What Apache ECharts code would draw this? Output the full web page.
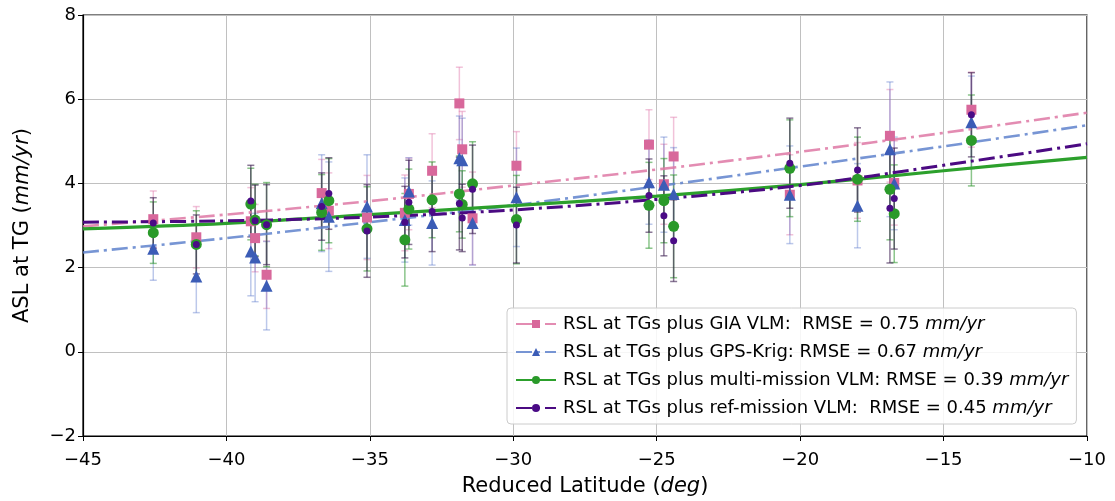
<!DOCTYPE html>
<html>
<head>
<meta charset="utf-8">
<script src="https://cdn.jsdelivr.net/npm/echarts@6/dist/echarts.min.js"></script>
<style>
  html, body { margin: 0; padding: 0; background: #fff; }
  #chart { width: 1115px; height: 501px; }
</style>
</head>
<body>
<div id="chart"></div>
<script>
// Tide-gauge stations (reduced latitude, deg)
const latitudes = [-42.55, -41.05, -39.15, -39.0, -38.6, -36.68, -36.43, -35.1, -33.78, -33.64,
  -32.83, -31.88, -31.78, -31.42, -29.89, -25.27, -24.75, -24.41, -20.36, -18.0, -16.87, -16.72, -14.03];

// ASL estimates (mm/yr) and one-sigma uncertainties per VLM correction
const giaVals = [3.15, 2.72, 3.10, 2.70, 1.83, 3.77, 3.35, 3.19, 3.30, 3.75,
  4.30, 5.90, 4.81, 3.17, 4.42, 4.92, 3.98, 4.64, 3.73, 4.07, 5.13, 4.01, 5.75];
const giaErr = [0.67, 0.73, 0.80, 0.80, 0.80, 0.80, 0.90, 1.00, 0.90, 0.85,
  0.88, 0.86, 0.90, 1.10, 0.81, 0.83, 0.95, 0.93, 0.95, 0.90, 1.10, 1.00, 0.89];

const krigVals = [2.45, 1.79, 2.38, 2.24, 1.57, 3.53, 3.21, 3.45, 3.13, 3.81,
  3.06, 4.60, 4.55, 3.06, 3.67, 4.03, 3.97, 3.75, 3.73, 3.47, 4.81, 4.00, 5.45];
const krigErr = [0.75, 0.86, 1.05, 1.05, 1.05, 1.15, 1.30, 1.23, 1.00, 0.80,
  1.00, 1.00, 1.00, 1.00, 1.17, 1.00, 1.13, 1.10, 1.16, 1.00, 1.60, 1.10, 1.10];

const multiVals = [2.83, 2.55, 3.51, 3.13, 3.02, 3.31, 3.59, 2.92, 2.66, 3.39,
  3.61, 3.75, 3.50, 3.99, 3.14, 3.48, 3.59, 2.98, 4.36, 4.10, 3.86, 3.28, 5.02];
const multiErr = [0.73, 0.80, 0.85, 0.85, 1.00, 0.90, 1.00, 1.00, 1.10, 0.95,
  0.90, 0.90, 0.80, 1.00, 1.05, 1.02, 1.00, 1.22, 1.15, 1.00, 1.20, 1.16, 1.08];

const refVals = [3.06, 2.55, 3.58, 3.11, 3.02, 3.45, 3.76, 2.87, 3.08, 3.55,
  3.33, 3.52, 3.18, 3.86, 3.01, 3.71, 3.23, 2.64, 4.48, 4.32, 3.41, 3.64, 5.63];
const refErr = [0.60, 0.70, 0.85, 0.85, 0.95, 0.80, 0.85, 1.10, 0.85, 1.00,
  0.95, 1.10, 0.80, 1.05, 0.90, 0.87, 0.95, 0.97, 1.07, 1.00, 1.30, 1.20, 1.00];

// Fitted trends sampled along latitude
const fitLat = [-45, -40, -35, -30, -25, -20, -15, -10];
const giaFit = [2.98, 3.26, 3.58, 3.95, 4.33, 4.75, 5.20, 5.68];
const krigFit = [2.36, 2.70, 3.08, 3.48, 3.93, 4.40, 4.88, 5.38];
const multiFit = [2.92, 3.05, 3.26, 3.47, 3.70, 3.97, 4.30, 4.62];
const refFit = [3.08, 3.11, 3.20, 3.37, 3.62, 3.95, 4.43, 4.94];

// Legend labels (units appended in italics)
const legendNames = [
  'RSL at TGs plus GIA VLM:  RMSE = 0.75 ',
  'RSL at TGs plus GPS-Krig: RMSE = 0.67 ',
  'RSL at TGs plus multi-mission VLM: RMSE = 0.39 ',
  'RSL at TGs plus ref-mission VLM:  RMSE = 0.45 '
];

const xTicks = [-45, -40, -35, -30, -25, -20, -15, -10];
const yTicks = [-2, 0, 2, 4, 6, 8];

const FONT = 'DejaVu Sans';
const minus = v => String(v).replace('-', '\u2212');

const groups = [
  { name: legendNames[0], vals: giaVals, err: giaErr, fit: giaFit,
    marker: '#d8689b', line: 'rgba(222,120,165,0.85)', bar: 'rgba(225,120,170,0.45)',
    symbol: 'rect', size: 10, lw: 2.6, dash: [16, 5, 3, 5] },
  { name: legendNames[1], vals: krigVals, err: krigErr, fit: krigFit,
    marker: '#3b5cb6', line: 'rgba(95,130,205,0.85)', bar: 'rgba(80,110,200,0.38)',
    symbol: 'triangle', size: 12, lw: 2.6, dash: [16, 5, 3, 5] },
  { name: legendNames[2], vals: multiVals, err: multiErr, fit: multiFit,
    marker: '#2a9a2a', line: '#2ca02c', bar: 'rgba(44,150,44,0.55)',
    symbol: 'circle', size: 11, lw: 3.2, dash: 'solid' },
  { name: legendNames[3], vals: refVals, err: refErr, fit: refFit,
    marker: '#4a0b86', line: '#4b0a82', bar: 'rgba(60,30,80,0.6)',
    symbol: 'circle', size: 7, lw: 3.0, dash: [16, 5, 3, 5] }
];

function errorBarRenderer(color) {
  return function (params, api) {
    const x = api.value(0);
    const top = api.coord([x, api.value(2)]);
    const bot = api.coord([x, api.value(1)]);
    const cap = 3.5;
    const style = { stroke: color, lineWidth: 1.5, fill: null };
    return {
      type: 'group',
      children: [
        { type: 'line', shape: { x1: top[0], y1: top[1], x2: bot[0], y2: bot[1] }, style },
        { type: 'line', shape: { x1: top[0] - cap, y1: top[1], x2: top[0] + cap, y2: top[1] }, style },
        { type: 'line', shape: { x1: bot[0] - cap, y1: bot[1], x2: bot[0] + cap, y2: bot[1] }, style }
      ]
    };
  };
}

const series = [];
groups.forEach((g) => {
  // fitted trend line (also supplies the legend entry)
  series.push({
    name: g.name,
    type: 'line',
    data: fitLat.map((x, i) => [x, g.fit[i]]),
    smooth: 0.35,
    showSymbol: false,
    symbol: g.symbol,
    symbolSize: g.size,
    itemStyle: { color: g.marker },
    lineStyle: { color: g.line, width: g.lw, type: g.dash },
    z: 3,
    silent: true
  });
});
groups.forEach((g, gi) => {
  series.push({
    name: g.name + 'err',
    type: 'custom',
    renderItem: errorBarRenderer(g.bar),
    data: latitudes.map((x, i) => [x, g.vals[i] - g.err[i], g.vals[i] + g.err[i]]),
    z: 2 + gi * 0.1,
    silent: true
  });
  series.push({
    name: g.name + 'pts',
    type: 'scatter',
    data: latitudes.map((x, i) => [x, g.vals[i]]),
    symbol: g.symbol,
    symbolSize: g.size,
    itemStyle: { color: g.marker, opacity: 1 },
    z: 4 + gi * 0.1,
    silent: true
  });
});

const axisNameStyle = {
  fontSize: 21, color: '#000', fontFamily: FONT,
  rich: { i: { fontStyle: 'italic', fontSize: 21, color: '#000', fontFamily: FONT } }
};

const chart = echarts.init(document.getElementById('chart'), null, { renderer: 'canvas' });
chart.setOption({
  animation: false,
  backgroundColor: '#fff',
  textStyle: { fontFamily: FONT },
  grid: { left: 83, right: 28, top: 15, bottom: 65, show: true, borderColor: '#000', borderWidth: 1.2,
          containLabel: false, outerBoundsMode: 'none' },
  xAxis: {
    type: 'value', min: xTicks[0], max: xTicks[xTicks.length - 1], interval: 5,
    name: 'Reduced Latitude ({i|deg})', nameLocation: 'middle', nameGap: 40,
    nameTextStyle: axisNameStyle,
    axisLine: { onZero: false, lineStyle: { color: '#000', width: 1.2 } },
    axisTick: { show: true, length: 5, lineStyle: { color: '#000' } },
    axisLabel: { fontSize: 18, color: '#000', margin: 15, formatter: v => minus(v) },
    splitLine: { show: true, lineStyle: { color: '#c0c0c0', width: 1 } }
  },
  yAxis: {
    type: 'value', min: yTicks[0], max: yTicks[yTicks.length - 1], interval: 2,
    name: 'ASL at TG ({i|mm/yr})', nameLocation: 'middle', nameGap: 50, nameRotate: 90,
    nameTextStyle: axisNameStyle,
    axisLine: { show: true, onZero: false, lineStyle: { color: '#000', width: 1.2 } },
    axisTick: { show: true, length: 5, lineStyle: { color: '#000' } },
    axisLabel: { fontSize: 18, color: '#000', margin: 7, formatter: v => minus(v) },
    splitLine: { show: true, lineStyle: { color: '#c0c0c0', width: 1 } }
  },
  legend: {
    data: legendNames,
    orient: 'vertical',
    left: 507, top: 308,
    padding: [7, 8, 7, 8],
    itemGap: 10,
    itemWidth: 40, itemHeight: 10,
    backgroundColor: 'rgba(255,255,255,0.85)',
    borderColor: '#cccccc', borderWidth: 1, borderRadius: 4,
    selectedMode: false,
    formatter: name => name + '{i|mm/yr}',
    textStyle: { fontSize: 18, color: '#000', fontFamily: FONT, padding: [0, 0, 0, 2],
      rich: { i: { fontStyle: 'italic', fontSize: 18, color: '#000', fontFamily: FONT } } }
  },
  series
});
</script>
</body>
</html>
